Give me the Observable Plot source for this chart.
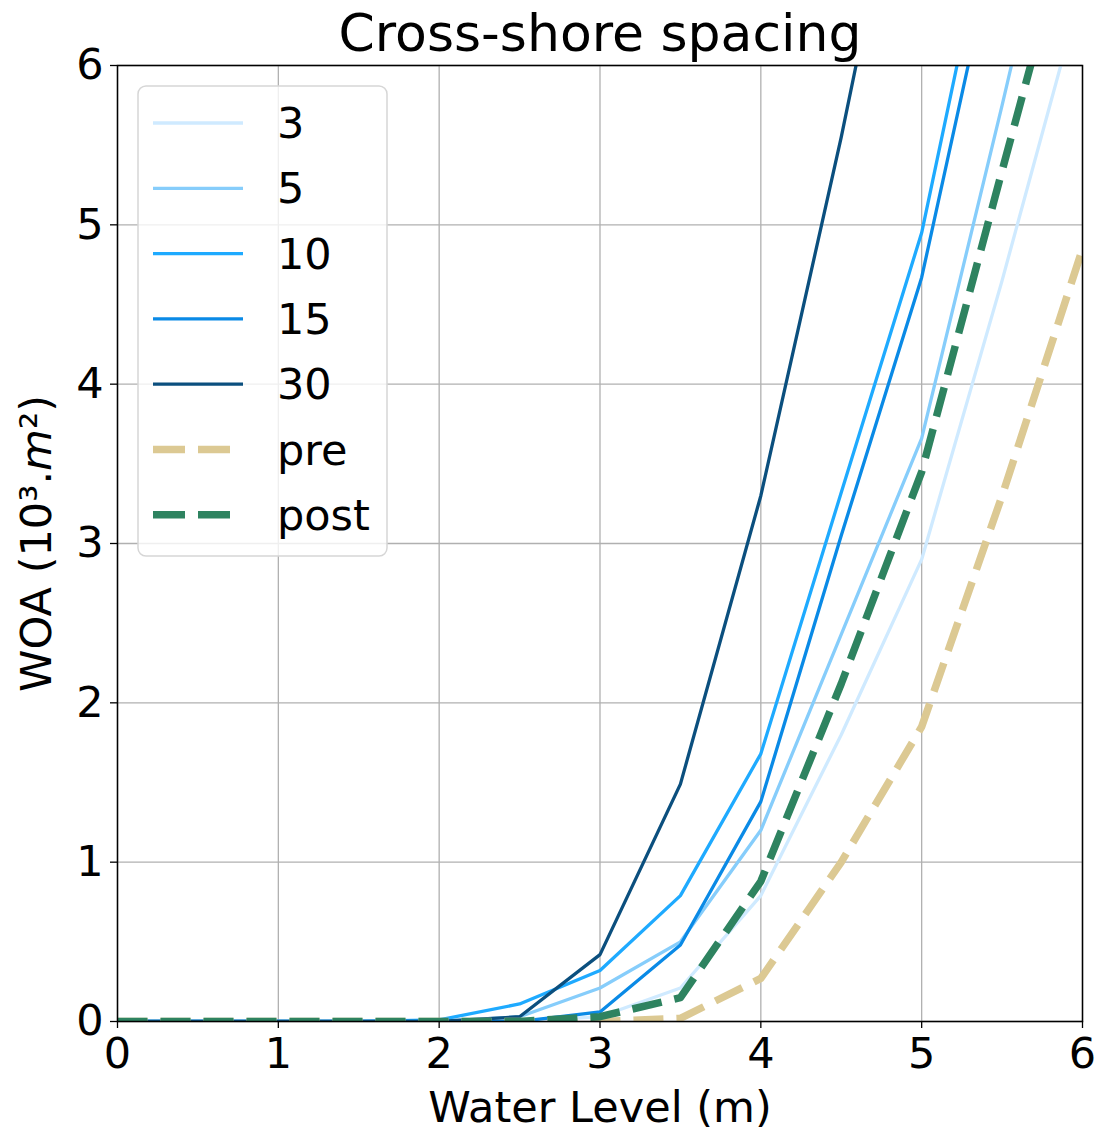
<!DOCTYPE html>
<html>
<head>
<meta charset="utf-8">
<script src="https://cdn.jsdelivr.net/npm/d3@7"></script>
<script src="https://cdn.jsdelivr.net/npm/@observablehq/plot@0.6"></script>
<style>
  body { margin: 0; background: white; }
  svg { font-family: "DejaVu Sans", sans-serif; }
</style>
</head>
<body>
<div id="chart"></div>
<script>
// ---- data ----
const waterLevel = [0, 0.5, 1, 1.5, 2, 2.5, 3, 3.5, 4, 4.5, 5, 5.5, 6];
const seriesNames = ["3", "5", "10", "15", "30", "pre", "post"];
const woa3    = [0, 0, 0, 0, 0, 0,    0.03, 0.21, 0.79, 1.8,  2.9,  4.65, 6.5];
const woa5    = [0, 0, 0, 0, 0, 0.03, 0.21, 0.5,  1.2,  2.43, 3.66, 5.75, 7.9];
const woa10   = [0, 0, 0, 0, 0.01, 0.11, 0.32, 0.79, 1.68, 3.32, 4.95, 7.34, 9.6];
const woa15   = [0, 0, 0, 0, 0, 0,    0.06, 0.48, 1.38, 3.05, 4.67, 6.97, 9.3];
const woa30   = [0, 0, 0, 0, 0, 0.03, 0.42, 1.49, 3.3,  5.55, 8.0, 10.5, 13.0];
const woaPre  = [0, 0, 0, 0, 0, 0,    0,    0.02, 0.27, 1.0,  1.85, 3.3,  4.85];
const woaPost = [0, 0, 0, 0, 0, 0,    0.03, 0.15, 0.88, 2.12, 3.45, 5.34, 7.2];
const xTicks = [0, 1, 2, 3, 4, 5, 6];
const yTicks = [0, 1, 2, 3, 4, 5, 6];
const titleText = "Cross-shore spacing";
const xLabel = "Water Level (m)";
const yLabel = "WOA (10³.m²)";

// ---- styles ----
const seriesValues = [woa3, woa5, woa10, woa15, woa30, woaPre, woaPost];
const seriesStyle = [
  {color: "#cfeaff", width: 3.3, dash: null},
  {color: "#86cdfb", width: 3.3, dash: null},
  {color: "#1eaaff", width: 3.3, dash: null},
  {color: "#0a8ae6", width: 3.3, dash: null},
  {color: "#0b4f7e", width: 3.3, dash: null},
  {color: "#dcc993", width: 7.5, dash: "30,13"},
  {color: "#2e8360", width: 7.5, dash: "30,13"}
];

const rows = seriesNames.map((name, k) =>
  waterLevel.map((x, i) => ({x, y: seriesValues[k][i], name})));

const lineMarks = rows.map((data, k) => Plot.line(data, {
  x: "x", y: "y",
  stroke: seriesStyle[k].color,
  strokeWidth: seriesStyle[k].width,
  strokeDasharray: seriesStyle[k].dash || undefined,
  strokeLinejoin: "round",
  strokeLinecap: "butt",
  clip: true
}));

const chart = Plot.plot({
  width: 1100,
  height: 1135,
  marginLeft: 117,
  marginRight: 18,
  marginTop: 65,
  marginBottom: 114,
  style: {fontFamily: "DejaVu Sans, sans-serif", background: "white", overflow: "visible"},
  x: {domain: [0, 6]},
  y: {domain: [0, 6]},
  marks: [
    Plot.gridX(xTicks, {stroke: "#b0b0b0", strokeOpacity: 1, strokeWidth: 1.3}),
    Plot.gridY(yTicks, {stroke: "#b0b0b0", strokeOpacity: 1, strokeWidth: 1.3}),
    ...lineMarks,
    Plot.frame({stroke: "black", strokeWidth: 1.5}),
    Plot.axisX(xTicks, {tickSize: 7, tickPadding: 9, fontSize: 43, label: null, tickFormat: d => String(d), stroke: "black", strokeWidth: 1.3}),
    Plot.axisY(yTicks, {tickSize: 7, tickPadding: 7, fontSize: 43, label: null, tickFormat: d => String(d), stroke: "black", strokeWidth: 1.3}),
    Plot.text([titleText], {frameAnchor: "top", textAnchor: "middle", lineAnchor: "middle", dy: -31, fontSize: 52, fill: "black"}),
    Plot.text([xLabel], {frameAnchor: "bottom", textAnchor: "middle", lineAnchor: "middle", dy: 87, fontSize: 43, fill: "black"}),
    Plot.text([yLabel], {frameAnchor: "left", textAnchor: "middle", lineAnchor: "middle", dx: -80, rotate: -90, fontSize: 43, fill: "black"})
  ]
});

document.getElementById("chart").appendChild(chart);

// italic m in the y label
const svg = d3.select(chart);
svg.selectAll("text").filter(function() { return this.textContent === yLabel; })
  .each(function() {
    const t = d3.select(this);
    t.text("");
    t.append("tspan").text("WOA (10³.");
    t.append("tspan").attr("font-style", "italic").text("m");
    t.append("tspan").text("²)");
  });

// legend
const lx = 138, ly = 86, lw = 249, lh = 470, rowH = 65.3;
const lg = svg.append("g").attr("class", "legend").attr("text-anchor", "start");
lg.append("rect")
  .attr("x", lx).attr("y", ly).attr("width", lw).attr("height", lh)
  .attr("rx", 8).attr("ry", 8)
  .attr("fill", "white").attr("fill-opacity", 0.8)
  .attr("stroke", "#d6d6d6").attr("stroke-width", 1.5);
seriesNames.forEach((name, k) => {
  const cy = ly + 37 + k * rowH;
  const st = seriesStyle[k];
  lg.append("line")
    .attr("x1", lx + 15).attr("x2", lx + 105)
    .attr("y1", cy).attr("y2", cy)
    .attr("stroke", st.color).attr("stroke-width", st.width)
    .attr("stroke-dasharray", st.dash ? "32,13" : null);
  lg.append("text")
    .attr("x", lx + 139).attr("y", cy).attr("dy", "0.35em")
    .attr("text-anchor", "start")
    .attr("font-size", 43).attr("fill", "black")
    .text(name);
});
</script>
</body>
</html>
